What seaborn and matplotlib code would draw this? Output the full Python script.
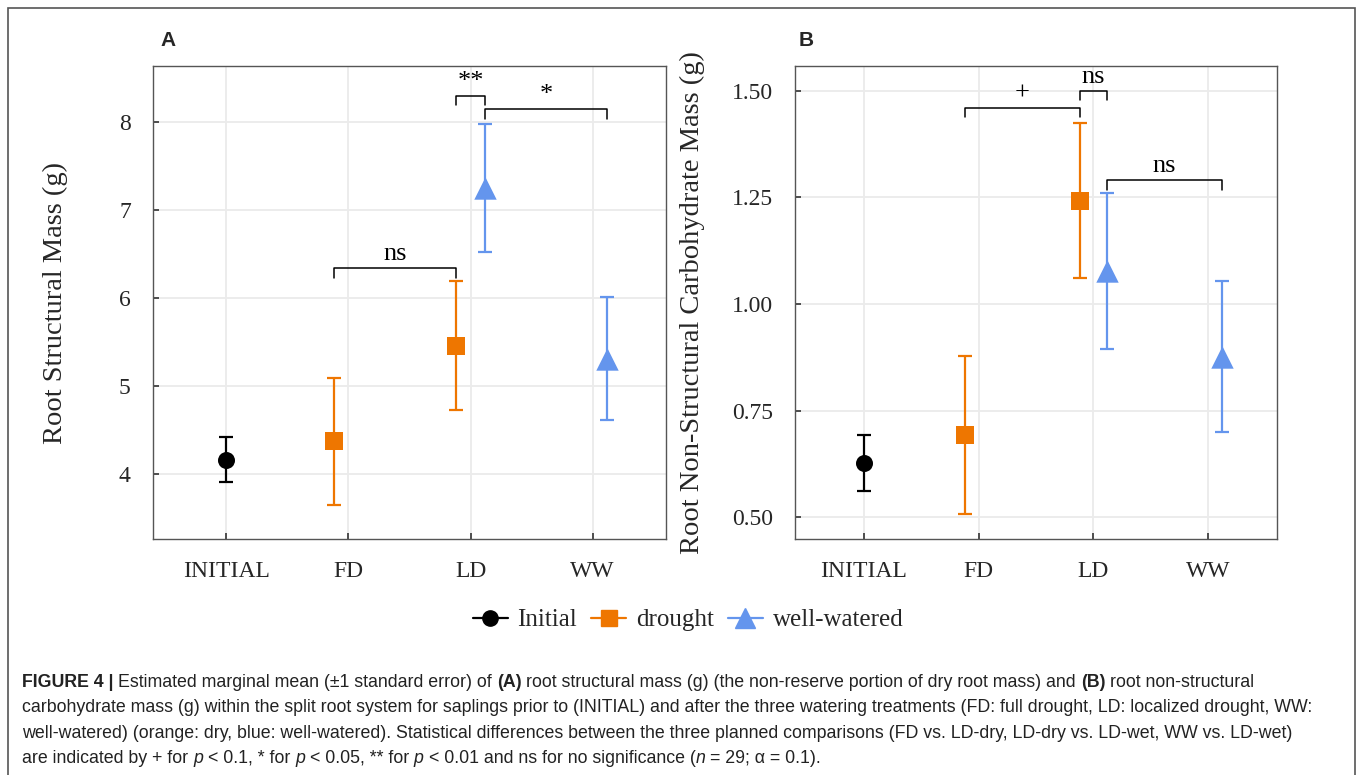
import numpy as np
import pandas as pd
import seaborn as sns
import matplotlib.pyplot as plt
from matplotlib.lines import Line2D
from matplotlib.patches import FancyBboxPatch

# categories on the x axis
categories = ['INITIAL', 'FD', 'LD', 'WW']

# panel A: root structural mass (g)
a_initial_mean = [4.16]
a_initial_lo = [3.91]
a_initial_hi = [4.42]
a_drought_cat = ['FD', 'LD']
a_drought_mean = [4.37, 5.46]
a_drought_lo = [3.65, 4.73]
a_drought_hi = [5.09, 6.19]
a_wet_cat = ['LD', 'WW']
a_wet_mean = [7.25, 5.31]
a_wet_lo = [6.52, 4.61]
a_wet_hi = [7.98, 6.01]

# panel B: root non-structural carbohydrate mass (g)
b_initial_mean = [0.628]
b_initial_lo = [0.562]
b_initial_hi = [0.694]
b_drought_cat = ['FD', 'LD']
b_drought_mean = [0.693, 1.242]
b_drought_lo = [0.508, 1.060]
b_drought_hi = [0.878, 1.424]
b_wet_cat = ['LD', 'WW']
b_wet_mean = [1.078, 0.876]
b_wet_lo = [0.895, 0.700]
b_wet_hi = [1.261, 1.053]

# significance brackets: (x1, x2, height, label)
a_brackets = [(('FD', 'drought'), ('LD', 'drought'), 6.34, 'ns'),
              (('LD', 'drought'), ('LD', 'well-watered'), 8.30, '**'),
              (('LD', 'well-watered'), ('WW', 'well-watered'), 8.15, '*')]
b_brackets = [(('FD', 'drought'), ('LD', 'drought'), 1.46, '+'),
              (('LD', 'drought'), ('LD', 'well-watered'), 1.50, 'ns'),
              (('LD', 'well-watered'), ('WW', 'well-watered'), 1.29, 'ns')]

colors = {'Initial': '#000000', 'drought': '#EE7600', 'well-watered': '#6495ED'}
markers = {'Initial': 'o', 'drought': 's', 'well-watered': '^'}
msize = {'Initial': 150, 'drought': 170, 'well-watered': 260}
dodge = {'Initial': 0.0, 'drought': -0.12, 'well-watered': 0.12}

sns.set_theme(style='whitegrid')
plt.rcParams['font.family'] = ['Liberation Serif', 'DejaVu Serif']


def make_frame(groups):
    rows = []
    for grp, cats, mean, lo, hi in groups:
        for c, m, l, h in zip(cats, mean, lo, hi):
            rows.append({'group': grp, 'cat': c, 'mean': m, 'lo': l, 'hi': h,
                         'x': categories.index(c) + dodge[grp]})
    return pd.DataFrame(rows)


df_a = make_frame([('Initial', ['INITIAL'], a_initial_mean, a_initial_lo, a_initial_hi),
                   ('drought', a_drought_cat, a_drought_mean, a_drought_lo, a_drought_hi),
                   ('well-watered', a_wet_cat, a_wet_mean, a_wet_lo, a_wet_hi)])
df_b = make_frame([('Initial', ['INITIAL'], b_initial_mean, b_initial_lo, b_initial_hi),
                   ('drought', b_drought_cat, b_drought_mean, b_drought_lo, b_drought_hi),
                   ('well-watered', b_wet_cat, b_wet_mean, b_wet_lo, b_wet_hi)])

fig = plt.figure(figsize=(13.58, 7.75), dpi=100)
ax_a = fig.add_axes([153 / 1358, 1 - 539 / 775, 513 / 1358, 473 / 775])
ax_b = fig.add_axes([795 / 1358, 1 - 539 / 775, 482 / 1358, 473 / 775])


def draw_panel(ax, df, ylim, yticks, yfmt, ylabel, brackets, span):
    for grp in ['Initial', 'drought', 'well-watered']:
        d = df[df['group'] == grp]
        ax.errorbar(d['x'], d['mean'], yerr=[d['mean'] - d['lo'], d['hi'] - d['mean']],
                    fmt='none', ecolor=colors[grp], elinewidth=1.6, capsize=5,
                    capthick=1.6, zorder=3)
        sns.scatterplot(data=d, x='x', y='mean', color=colors[grp], marker=markers[grp],
                        s=msize[grp], linewidth=0, ax=ax, zorder=4, legend=False)
    drop = span * 0.02
    for (c1, g1), (c2, g2), h, lab in brackets:
        x1 = categories.index(c1) + dodge[g1]
        x2 = categories.index(c2) + dodge[g2]
        ax.plot([x1, x1, x2, x2], [h - drop, h, h, h - drop], color='black', lw=1.1,
                zorder=5, clip_on=False)
        ax.text((x1 + x2) / 2, h + span * 0.006, lab, ha='center', va='bottom',
                fontsize=19, color='black')
    ax.set_xlim(-0.6, 3.6)
    ax.set_ylim(*ylim)
    ax.set_xticks(range(len(categories)))
    ax.set_xticklabels(categories)
    ax.set_yticks(yticks)
    ax.set_yticklabels([yfmt.format(v) for v in yticks])
    ax.set_xlabel('')
    ax.set_ylabel(ylabel, fontsize=20.5)
    ax.grid(True, color='#EBEBEB', lw=1.3)
    for s in ax.spines.values():
        s.set_visible(True)
        s.set_color('#555555')
        s.set_linewidth(1.0)
    ax.tick_params(axis='both', direction='in', length=4, width=1.2, color='#333333',
                   labelsize=17, pad=16, left=True, bottom=True)
    ax.set_facecolor('white')


draw_panel(ax_a, df_a, (3.26, 8.64), [4, 5, 6, 7, 8], '{:.0f}',
           'Root Structural Mass (g)', a_brackets, 8.64 - 3.26)
draw_panel(ax_b, df_b, (0.449, 1.558), [0.5, 0.75, 1.0, 1.25, 1.5], '{:.2f}',
           'Root Non-Structural Carbohydrate Mass (g)', b_brackets, 1.558 - 0.449)
ax_a.yaxis.set_label_coords(-0.166, 0.5)
ax_b.yaxis.set_label_coords(-0.187, 0.5)

fig.text(168 / 1358, 1 - 41 / 775, 'A', fontsize=15, fontweight='bold',
         family=['Liberation Sans', 'DejaVu Sans'], ha='center', va='center')
fig.text(806 / 1358, 1 - 40 / 775, 'B', fontsize=15, fontweight='bold',
         family=['Liberation Sans', 'DejaVu Sans'], ha='center', va='center')

# legend
handles = [Line2D([], [], color=colors[g], marker=markers[g], lw=1.6,
                  markersize={'Initial': 11, 'drought': 11, 'well-watered': 15}[g])
           for g in ['Initial', 'drought', 'well-watered']]
fig.legend(handles, ['Initial', 'drought', 'well-watered'], loc='center',
           bbox_to_anchor=(688 / 1358, 1 - 620 / 775), ncol=3, frameon=False,
           fontsize=18, handlelength=1.4, columnspacing=0.55, handletextpad=0.4)

# frame around figure
fig.patches.append(FancyBboxPatch((8 / 1358, -0.02), 1347 / 1358, 1 - 8 / 775 + 0.02,
                                  boxstyle='square,pad=0', transform=fig.transFigure,
                                  fill=False, edgecolor='#555555', lw=1.2))

# caption with mixed styles
cap_family = ['Liberation Sans', 'DejaVu Sans']
cap_size = 12.75
renderer = fig.canvas.get_renderer()
W = fig.bbox.width


def text_width(s, **kw):
    t = fig.text(0, 0, s, fontsize=cap_size, family=cap_family, **kw)
    w = t.get_window_extent(renderer).width
    t.remove()
    return w


space_w = text_width('a a') - text_width('aa')


def draw_runs(x, y, runs):
    cur = x * W
    for s, weight, style in runs:
        lead = len(s) - len(s.lstrip(' '))
        trail = len(s) - len(s.rstrip(' '))
        core = s.strip(' ')
        cur += lead * space_w
        t = fig.text(cur / W, y, core, fontsize=cap_size, family=cap_family,
                     fontweight=weight, fontstyle=style, color='#222222', va='baseline')
        cur += t.get_window_extent(renderer).width + trail * space_w


N, B, I = ('normal', 'normal'), ('bold', 'normal'), ('normal', 'italic')
caption_lines = [
    [('FIGURE 4 | ', *B), ('Estimated marginal mean (\u00b11 standard error) of ', *N), ('(A)', *B),
     (' root structural mass (g) (the non-reserve portion of dry root mass) and ', *N), ('(B)', *B),
     (' root non-structural', *N)],
    [('carbohydrate mass (g) within the split root system for saplings prior to (INITIAL) and after the three watering treatments (FD: full drought, LD: localized drought, WW:', *N)],
    [('well-watered) (orange: dry, blue: well-watered). Statistical differences between the three planned comparisons (FD vs. LD-dry, LD-dry vs. LD-wet, WW vs. LD-wet)', *N)],
    [('are indicated by + for ', *N), ('p', *I), (' < 0.1, * for ', *N), ('p', *I), (' < 0.05, ** for ', *N),
     ('p', *I), (' < 0.01 and ns for no significance (', *N), ('n', *I), (' = 29; \u03b1 = 0.1).', *N)],
]
for i, runs in enumerate(caption_lines):
    draw_runs(22 / 1358, 1 - (687 + i * 25.3) / 775, runs)

fig.savefig('out.png', dpi=100)
